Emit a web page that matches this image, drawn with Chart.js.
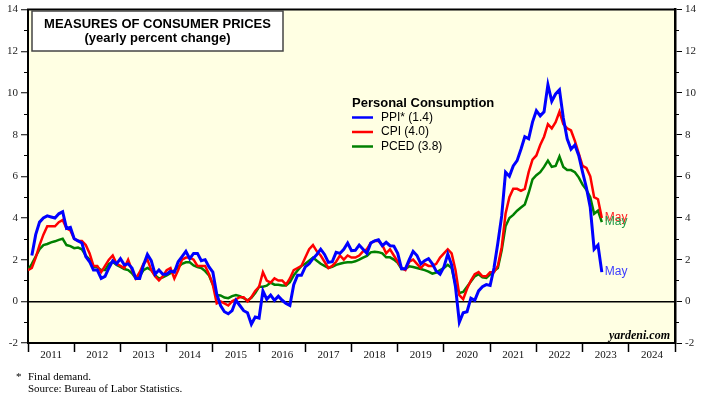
<!DOCTYPE html>
<html>
<head>
<meta charset="utf-8">
<script src="https://cdn.jsdelivr.net/npm/chart.js@4.4.0/dist/chart.umd.min.js"></script>
<style>
  html, body { margin: 0; padding: 0; background: #fff; }
  #wrap { width: 717px; height: 398px; }
</style>
</head>
<body>
<div id="wrap"><canvas id="chart"></canvas></div>
<script>
// monthly yoy % change, Dec 2010 .. May 2023
const startYear = 2011; // Dec 2010 value sits on the 2011 line
const seriesNames = ["PPI*", "CPI", "PCED"];
const lineColors = ["#0000ff", "#ff0000", "#008000"];
const mayColors = ["#3c3cff", "#ff2424", "#1f9a48"];
const lastLabel = "May";
const titleLines = ["MEASURES OF CONSUMER PRICES", "(yearly percent change)"];
const legendTitle = "Personal Consumption";
const footnotes = ["Final demand.", "Source: Bureau of Labor Statistics."];

const ppi = [null,
  2.2, 3.2, 3.8, 4.0, 4.1, 4.05, 4.0, 4.2, 4.3, 3.5, 3.55, 3.0,
  2.9, 2.8, 2.15, 1.9, 1.5, 1.5, 1.1, 1.2, 1.6, 1.95, 1.8, 2.05,
  1.75, 1.8, 1.6, 1.1, 1.1, 1.75, 2.25, 1.95, 1.3, 1.5, 1.3, 1.3,
  1.45, 1.4, 1.9, 2.15, 2.4, 2.05, 2.3, 2.3, 1.95, 2.0, 1.65, 1.4,
  0.35, -0.2, -0.5, -0.6, -0.45, 0.05, -0.2, -0.45, -0.55, -1.1, -0.75, -0.8,
  0.5, 0.1, 0.3, 0.05, 0.25, 0.05, -0.1, -0.2, 0.8, 1.25, 1.25, 1.65,
  1.8, 2.05, 2.25, 2.5, 2.25, 1.87, 1.9, 2.35, 2.3, 2.5, 2.8, 2.43,
  2.45, 2.7, 2.5, 2.3, 2.8, 2.9, 2.95, 2.67, 2.83, 2.67, 2.65, 2.3,
  1.56, 1.56, 2.0, 2.4, 2.2, 1.8, 1.95, 2.05, 1.8, 1.45, 1.3, 1.65,
  2.27, 1.75, 0.7, -1.0, -0.55, -0.5, 0.15, 0.05, 0.5, 0.7, 0.8, 0.76,
  1.6, 2.8, 4.1, 6.2, 6.0, 6.5, 6.75, 7.3, 7.9, 7.8, 8.6, 9.15,
  8.9, 9.1, 10.4, 9.6, 9.95, 10.15, 8.8, 7.8, 7.3, 7.5, 7.0, 6.2,
  5.45, 4.5, 2.5, 2.7, 1.4];

const cpi = [1.5,
  1.6, 2.1, 2.7, 3.2, 3.6, 3.6, 3.6, 3.8, 3.9, 3.5, 3.4, 3.0,
  2.9, 2.9, 2.7, 2.3, 1.7, 1.7, 1.4, 1.7, 2.0, 2.2, 1.8, 1.7,
  1.6, 2.0, 1.5, 1.1, 1.4, 1.8, 2.0, 1.5, 1.2, 1.0, 1.2, 1.5,
  1.6, 1.1, 1.5, 2.0, 2.1, 2.1, 2.0, 1.7, 1.7, 1.7, 1.3, 0.8,
  -0.1, 0.0, -0.1, -0.2, 0.0, 0.1, 0.2, 0.2, 0.0, 0.2, 0.5, 0.7,
  1.4, 1.0, 0.9, 1.1, 1.0, 1.0, 0.8, 1.1, 1.5, 1.6, 1.7, 2.1,
  2.5, 2.7, 2.4, 2.2, 1.9, 1.6, 1.7, 1.9, 2.2, 2.0, 2.2, 2.1,
  2.1, 2.2, 2.4, 2.5, 2.8, 2.9, 2.9, 2.7, 2.3, 2.5, 2.2, 1.9,
  1.6, 1.5, 1.9, 2.0, 1.8, 1.6, 1.8, 1.7, 1.7, 1.8, 2.1, 2.3,
  2.5, 2.3, 1.5, 0.3, 0.1, 0.6, 1.0, 1.3, 1.4, 1.2, 1.2, 1.4,
  1.4, 1.7, 2.6, 4.2, 5.0, 5.4, 5.4, 5.3, 5.4, 6.2, 6.8, 7.0,
  7.5, 7.9, 8.5, 8.3, 8.6, 9.1, 8.5, 8.3, 8.2, 7.7, 7.1, 6.5,
  6.4, 6.0, 5.0, 4.9, 4.0];

const pced = [1.5,
  1.8, 2.15, 2.5, 2.7, 2.75, 2.83, 2.88, 2.95, 3.0, 2.7, 2.65, 2.55,
  2.58, 2.5, 2.2, 2.0, 1.65, 1.63, 1.5, 1.5, 1.8, 1.9, 1.75, 1.65,
  1.55, 1.5, 1.35, 1.1, 1.2, 1.5, 1.6, 1.5, 1.25, 1.1, 1.15, 1.25,
  1.35, 1.48, 1.65, 1.8, 1.87, 1.87, 1.72, 1.65, 1.6, 1.45, 1.25, 0.8,
  0.3, 0.28, 0.18, 0.15, 0.25, 0.3, 0.25, 0.15, 0.05, 0.17, 0.4, 0.7,
  0.7, 0.75, 0.9, 0.8, 0.8, 0.76, 0.76, 0.92, 1.25, 1.48, 1.7, 1.8,
  1.95, 2.1, 1.95, 1.8, 1.7, 1.6, 1.65, 1.75, 1.8, 1.85, 1.87, 1.87,
  1.92, 2.0, 2.1, 2.18, 2.35, 2.38, 2.36, 2.3, 2.11, 2.11, 2.0, 1.85,
  1.55, 1.55, 1.68, 1.65, 1.6, 1.55, 1.5, 1.43, 1.33, 1.38, 1.5, 1.6,
  1.75, 1.6, 0.8, 0.4, 0.45, 0.7, 0.95, 1.2, 1.3, 1.15, 1.12, 1.3,
  1.45, 1.6, 2.45, 3.6, 4.0, 4.15, 4.35, 4.5, 4.65, 5.2, 5.85, 6.05,
  6.2, 6.45, 6.75, 6.45, 6.5, 6.95, 6.45, 6.3, 6.3, 6.2, 5.95, 5.6,
  5.35, 5.0, 4.2, 4.35, 3.8];

const allSeries = [ppi, cpi, pced];

const toPoints = (arr) => arr.map((v, i) => ({ x: startYear + i / 12, y: v }));

const serif = "'Liberation Serif', 'Times New Roman', serif";
const sans = "'Liberation Sans', Arial, sans-serif";

const overlay = {
  id: "overlay",
  beforeDraw(chart) {
    const { ctx, chartArea: a } = chart;
    ctx.save();
    ctx.fillStyle = "#fff";
    ctx.fillRect(0, 0, chart.width, chart.height);
    ctx.fillStyle = "#ffffe3";
    ctx.fillRect(a.left, a.top, a.right - a.left, a.bottom - a.top);
    ctx.restore();
  },
  afterDraw(chart) {
    const { ctx, chartArea: a, scales } = chart;
    ctx.save();

    // top of frame
    ctx.strokeStyle = "#000";
    ctx.lineWidth = 2;
    ctx.beginPath();
    ctx.moveTo(a.left - 1, a.top);
    ctx.lineTo(a.right + 1, a.top);
    ctx.stroke();

    // short minor ticks on odd values
    ctx.lineWidth = 1;
    for (let v = -1; v < 14; v += 2) {
      const y = Math.round(scales.y.getPixelForValue(v)) + 0.5;
      ctx.beginPath();
      ctx.moveTo(a.left - 4, y); ctx.lineTo(a.left, y);
      ctx.moveTo(a.right, y); ctx.lineTo(a.right + 4, y);
      ctx.stroke();
    }

    // title box
    ctx.fillStyle = "#fff";
    ctx.fillRect(32, 11, 251, 40);
    ctx.strokeStyle = "#444";
    ctx.lineWidth = 1.5;
    ctx.strokeRect(32, 11, 251, 40);
    ctx.fillStyle = "#000";
    ctx.textAlign = "center";
    ctx.textBaseline = "middle";
    ctx.font = "bold 13px " + sans;
    ctx.fillText(titleLines[0], 157.5, 24.5);
    ctx.fillText(titleLines[1], 157.5, 38);

    // legend
    ctx.textAlign = "left";
    ctx.font = "bold 13px " + sans;
    ctx.fillText(legendTitle, 352, 103.5);
    ctx.font = "12px " + sans;
    seriesNames.forEach((name, i) => {
      const y = 117.5 + i * 14.5;
      ctx.strokeStyle = lineColors[i];
      ctx.lineWidth = 2.5;
      ctx.beginPath();
      ctx.moveTo(352, y); ctx.lineTo(373, y);
      ctx.stroke();
      const arr = allSeries[i];
      ctx.fillStyle = "#000";
      ctx.fillText(name + " (" + arr[arr.length - 1].toFixed(1) + ")", 381, y);
    });

    // end-of-series labels
    [1, 2, 0].forEach((i) => {
      const arr = allSeries[i];
      const last = arr.length - 1;
      const x = scales.x.getPixelForValue(startYear + last / 12) + 3;
      const y = scales.y.getPixelForValue(arr[last]);
      ctx.fillStyle = mayColors[i];
      ctx.font = "12px " + sans;
      ctx.fillText(lastLabel, x, y);
    });

    // site mark
    ctx.fillStyle = "#000";
    ctx.textAlign = "right";
    ctx.font = "italic bold 12px " + serif;
    ctx.fillText("yardeni.com", 670, 335.5);

    // footnotes
    ctx.textAlign = "left";
    ctx.font = "11px " + serif;
    ctx.fillText("*", 16, 377);
    ctx.fillText(footnotes[0], 28, 377);
    ctx.fillText(footnotes[1], 28, 389.5);

    ctx.restore();
  }
};

const yTicksCommon = {
  min: -2,
  max: 14,
  afterBuildTicks: (scale) => {
    const t = [];
    for (let v = -2; v <= 14; v += 2) t.push({ value: v });
    scale.ticks = t;
  },
};

new Chart(document.getElementById("chart"), {
  type: "line",
  data: {
    datasets: allSeries.map((arr, i) => ({
      label: seriesNames[i],
      data: toPoints(arr),
      borderColor: lineColors[i],
      borderWidth: i === 0 ? 3 : 2.5,
      pointRadius: 0,
      tension: 0,
      fill: false,
    })),
  },
  options: {
    responsive: true,
    maintainAspectRatio: false,
    animation: false,
    layout: { padding: { top: 7, left: 0, right: 0, bottom: 0 } },
    plugins: { legend: { display: false }, tooltip: { enabled: false } },
    scales: {
      x: {
        type: "linear",
        min: 2011,
        max: 2025,
        afterBuildTicks: (scale) => {
          const t = [];
          for (let v = 2011; v <= 2025; v += 0.5) t.push({ value: v });
          scale.ticks = t;
        },
        afterFit: (scale) => { scale.height = 55; },
        border: { display: true, color: "#000", width: 2 },
        grid: {
          drawOnChartArea: false,
          tickLength: 9,
          tickWidth: 1.5,
          tickColor: (c) => (c.tick && c.tick.value % 1 === 0 ? "#000" : "rgba(0,0,0,0)"),
        },
        ticks: {
          autoSkip: false,
          maxRotation: 0,
          padding: -3,
          color: "#111",
          font: { family: serif, size: 11 },
          callback: (v) => (v % 1 !== 0 && v < 2025 ? String(Math.floor(v)) : ""),
        },
      },
      y: {
        ...yTicksCommon,
        position: "left",
        afterFit: (scale) => { scale.width = 28; },
        border: { display: true, color: "#000", width: 2 },
        grid: {
          drawOnChartArea: true,
          color: (c) => (c.tick && c.tick.value === 0 ? "#000" : "rgba(0,0,0,0)"),
          lineWidth: 1.5,
          tickColor: "#000",
          tickLength: 7,
          tickWidth: 1,
        },
        ticks: { padding: 3, color: "#222", font: { family: serif, size: 11 } },
      },
      y2: {
        ...yTicksCommon,
        axis: "y",
        position: "right",
        afterFit: (scale) => { scale.width = 42; },
        border: { display: true, color: "#000", width: 2.5 },
        grid: { drawOnChartArea: false, tickColor: "#000", tickLength: 7, tickWidth: 1 },
        ticks: { padding: 3, color: "#222", font: { family: serif, size: 11 } },
      },
    },
  },
  plugins: [overlay],
});
</script>
</body>
</html>
